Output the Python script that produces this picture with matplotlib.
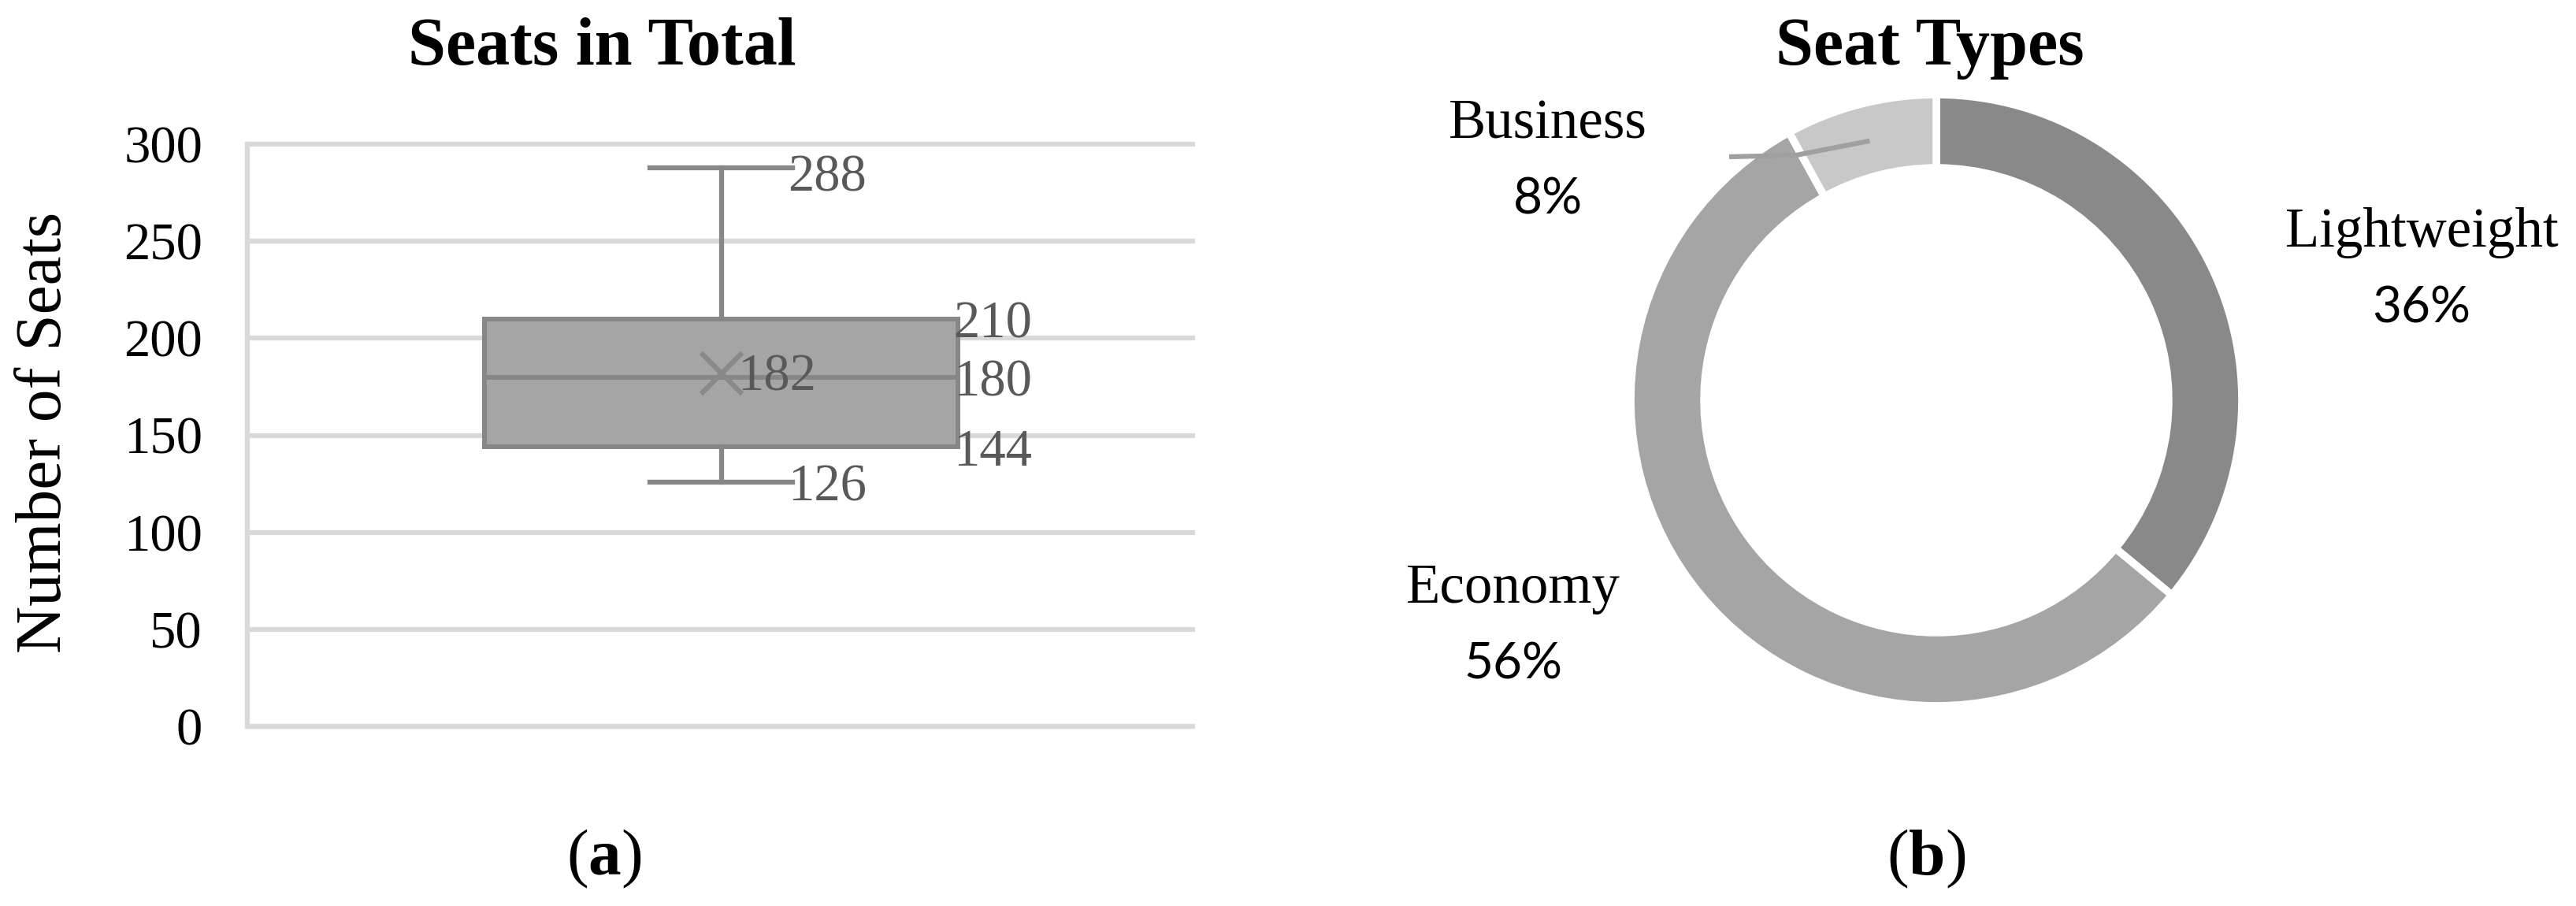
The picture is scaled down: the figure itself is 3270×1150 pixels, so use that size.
import matplotlib
matplotlib.use("Agg")
import matplotlib.pyplot as plt
import numpy as np

# ---------------- data ----------------
box_min = 126
box_q1 = 144
box_median = 180
box_q3 = 210
box_max = 288
box_mean = 182
y_ticks = [0, 50, 100, 150, 200, 250, 300]

seat_types = ["Lightweight", "Economy", "Business"]
seat_shares = [36, 56, 8]
seat_colors = ["#898989", "#a5a5a5", "#c8c8c8"]

# ---------------- setup ----------------
W, H = 3270, 1150
DPI = 100
SERIF = "Liberation Serif"
SANS = "Lato"
plt.rcParams["mathtext.fontset"] = "custom"
plt.rcParams["mathtext.rm"] = SERIF
plt.rcParams["mathtext.bf"] = SERIF + ":bold"

fig = plt.figure(figsize=(W / DPI, H / DPI), dpi=DPI)
fig.patch.set_facecolor("white")


def fx(px):
    return px / W


def fy(py):
    return 1 - py / H


# ---------------- left: box plot ----------------
ax_l, ax_r, ax_t, ax_b = 314, 1517, 183, 922
ax1 = fig.add_axes([fx(ax_l), fy(ax_b), fx(ax_r - ax_l), (ax_b - ax_t) / H])

stats = [dict(whislo=box_min, q1=box_q1, med=box_median, q3=box_q3,
              whishi=box_max, mean=box_mean, fliers=[])]
edge = "#878787"
ax1.bxp(stats, positions=[1], widths=0.5, capwidths=0.15, showmeans=True,
        patch_artist=True, showfliers=False, manage_ticks=False,
        boxprops=dict(facecolor="#a5a5a5", edgecolor=edge, linewidth=4.3),
        whiskerprops=dict(color=edge, linewidth=4.5),
        capprops=dict(color=edge, linewidth=4.5),
        medianprops=dict(color=edge, linewidth=4.3),
        meanprops=dict(marker="x", markersize=38, markeredgewidth=4.5,
                       markeredgecolor="#898989"))

ax1.set_xlim(0.5, 1.5)
ax1.set_ylim(0, 300)
grid_c = "#d9d9d9"
for sp in ["top", "right", "bottom"]:
    ax1.spines[sp].set_visible(False)
ax1.spines["left"].set_color(grid_c)
ax1.spines["left"].set_linewidth(4.5)
ax1.hlines(y_ticks, 0, 1, transform=ax1.get_yaxis_transform(), colors=grid_c,
           linewidth=4.5, clip_on=False, zorder=0)
ax1.set_xticks([])
ax1.set_yticks(y_ticks)
ax1.set_yticklabels([str(t) for t in y_ticks], fontfamily=SERIF, fontsize=48)
ax1.tick_params(axis="y", length=0, pad=41)

lab_c = "#595959"
lab_kw = dict(fontfamily=SERIF, fontsize=48, color=lab_c, va="center", ha="left",
              textcoords="offset points")
ax1.annotate(str(box_max), (1.07, box_max), xytext=(0, -10), **lab_kw)
ax1.annotate(str(box_min), (1.07, box_min), xytext=(0, -5), **lab_kw)
ax1.annotate(str(box_q3), (1.245, box_q3), xytext=(0, -5), **lab_kw)
ax1.annotate(str(box_median), (1.245, box_median), xytext=(0, -5), **lab_kw)
ax1.annotate(str(box_q1), (1.245, box_q1), xytext=(0, -5), **lab_kw)
ax1.annotate(str(box_mean), (1.017, box_mean), xytext=(0, -4), **lab_kw)

fig.text(fx(764), fy(82), "Seats in Total", fontfamily=SERIF, fontsize=62,
         fontweight="bold", ha="center", va="baseline")
fig.text(fx(57), fy(549), "Number of Seats", fontfamily=SERIF, fontsize=60,
         rotation=90, ha="center", va="center")
fig.text(fx(767), fy(1090), r"($\mathbf{a}$)", fontfamily=SERIF, fontsize=60,
         ha="center", va="center")

# ---------------- right: donut ----------------
cx, cy, rpx = 2458, 508, 388
half = 420
ax2 = fig.add_axes([fx(cx - half), fy(cy + half), 2 * half / W, 2 * half / H])
lim = half / rpx
wedges, _ = ax2.pie(seat_shares, colors=seat_colors, startangle=90,
                    counterclock=False, radius=1.0,
                    wedgeprops=dict(width=0.24, edgecolor="white", linewidth=7))
ax2.set_xlim(-lim, lim)
ax2.set_ylim(-lim, lim)
ax2.axis("off")

# leader line for Business
wb = wedges[2]
mid = np.deg2rad((wb.theta1 + wb.theta2) / 2)
r0 = 0.876
p0 = (r0 * np.cos(mid), r0 * np.sin(mid))
p1 = ((2280 - cx) / rpx, (cy - 197) / rpx)
p2 = ((2195 - cx) / rpx, (cy - 199) / rpx)
ax2.plot([p0[0], p1[0], p2[0]], [p0[1], p1[1], p2[1]], color="#a0a0a0",
         linewidth=4.5, solid_capstyle="butt", clip_on=False)

name_kw = dict(fontfamily=SERIF, fontsize=51, ha="center", va="center", color="black")
pct_kw = dict(fontfamily=SANS, fontsize=46, ha="center", va="center", color="black")
label_pos = {"Lightweight": (3074, 295, 392),
             "Economy": (1921, 747, 843),
             "Business": (1965, 158, 254)}
for name, share in zip(seat_types, seat_shares):
    x, y1, y2 = label_pos[name]
    fig.text(fx(x), fy(y1), name, **name_kw)
    fig.text(fx(x), fy(y2), f"{share}%", **pct_kw)

fig.text(fx(2450), fy(82), "Seat Types", fontfamily=SERIF, fontsize=62,
         fontweight="bold", ha="center", va="baseline")
fig.text(fx(2445), fy(1090), r"($\mathbf{b}$)", fontfamily=SERIF, fontsize=60,
         ha="center", va="center")

fig.savefig("out.png", dpi=DPI, facecolor="white")
